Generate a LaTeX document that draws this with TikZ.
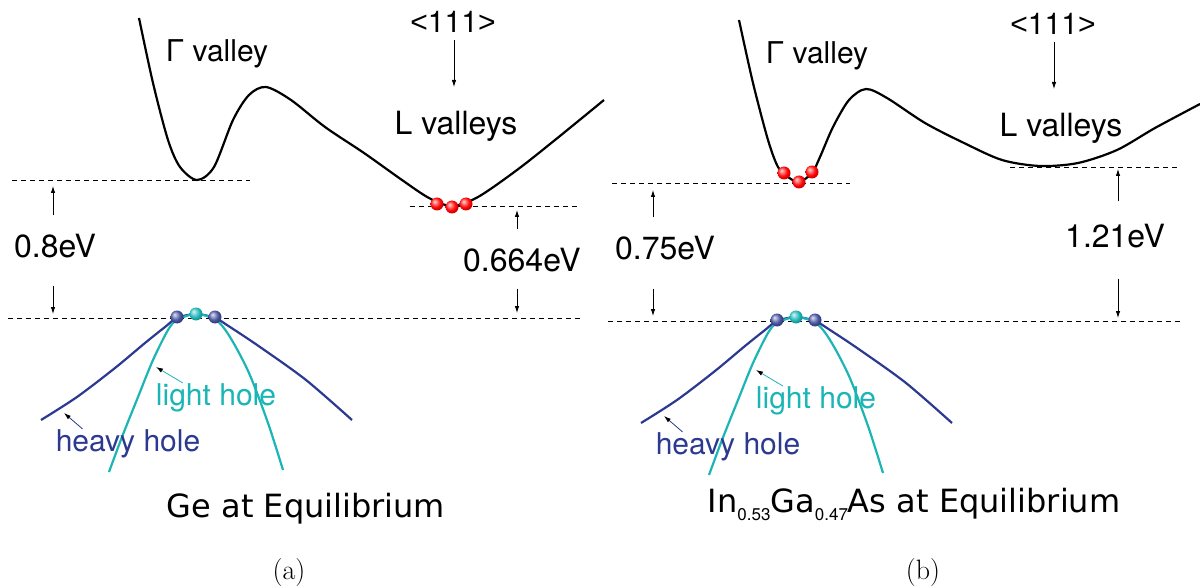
\documentclass[tikz,border=0pt]{standalone}
\usepackage{fontspec}
\setsansfont{TeX Gyre Heros}
\newfontfamily\capfont{DejaVu Sans}
\newfontfamily\arialfont{Liberation Sans}
\usetikzlibrary{arrows.meta}
\definecolor{hhblue}{RGB}{43,57,144}
\definecolor{lhteal}{RGB}{27,181,182}
\colorlet{ballcol}{red}
\pgfdeclareradialshading[ballcol]{glossy}{\pgfqpoint{-10bp}{10bp}}{color(0bp)=(ballcol!15!white); color(9bp)=(ballcol!55!white); color(18bp)=(ballcol!95!white); color(25bp)=(ballcol!85!black); color(50bp)=(ballcol!70!black)}
\newcommand{\molfrac}[1]{{\sffamily\fontsize{17}{17}\selectfont\raisebox{-8pt}{#1}}}
\newcommand{\dirlabel}{{\arialfont<}111{\arialfont>}}
% hole bands at the top of the valence band, #1 = panel suffix
\newcommand{\holebands}[1]{%
  \draw[hhband] plot[smooth, tension=0.5] coordinates {(41,420) (77,397) (115,368) (145,343) (165,327) (177,318) (196,314) (215,318) (230,327) (260,347) (306,380) (352,420)};
  \draw[lhband] plot[smooth, tension=0.5] coordinates {(109,472) (122,437) (138,397) (153,360) (168,330) (177,320) (196,314) (216,320) (230,337) (249,373) (268,423) (283,470)};
  \foreach \x in {177,215} {\shade[carrier=hhblue!90!white] (\x,317) circle (6.5pt);}
  \shade[carrier=lhteal] (196,314) circle (6.5pt);
  \node[lbl, text=lhteal, anchor=base] (lh#1) at (216,405) {light hole};
  \node[lbl, text=hhblue, anchor=base] (hh#1) at (128,451) {heavy hole};
  \coordinate (lhtip#1) at (156,367);
  \coordinate (hhtip#1) at (64,413);
  \draw[pointer, lhteal] ([xshift=27pt]lh#1.north west) -- (lhtip#1);
  \draw[pointer, hhblue] ([xshift=27pt]hh#1.north west) -- (hhtip#1);
}
\begin{document}
\begin{tikzpicture}[x=1pt, y=-1pt, font=\sffamily\fontsize{30}{34}\selectfont,
    >={Latex[length=7pt, width=4.5pt]},
    valley/.style={line width=2.2pt, line join=round},
    hhband/.style={draw=hhblue, line width=2.2pt},
    lhband/.style={draw=lhteal, line width=2.2pt},
    bandedge/.style={line width=0.9pt, dash pattern=on 5pt off 4pt},
    gaparrow/.style={->, line width=0.8pt},
    pointer/.style={line width=0.8pt, -{Latex[color=black, length=7pt, width=4.5pt]}},
    lbl/.style={inner sep=0pt},
    biglbl/.style={inner sep=0pt, font=\sffamily\fontsize{32}{36}\selectfont},
    captext/.style={inner sep=0pt, anchor=base, font=\capfont\fontsize{32}{36}\selectfont},
    panel/.style={inner sep=0pt, anchor=base, font=\rmfamily\fontsize{28}{32}\selectfont},
    carrier/.style={/utils/exec={\colorlet{ballcol}{#1}}, shading=glossy}]
  \useasboundingbox (0,0) rectangle (1200,588);

  % (a) Ge
  \draw[valley] plot[smooth, tension=0.5] coordinates {(139,18) (153,83) (168,140) (180,167) (197,180) (214,167) (233,120) (249,95) (266,87) (291,100) (325,127) (364,153) (402,180) (429,198) (452,206) (478,197) (517,170) (555,140) (604,100)};
  \draw[bandedge] (12,180) -- (250,180);
  \draw[bandedge] (410,206) -- (580,206);
  \draw[bandedge] (8,318) -- (582,318);
  \foreach \x/\y in {437/204,452/207,466/204} {\shade[carrier=red] (\x,\y) circle (6.5pt);}
  \node[lbl, anchor=base] (gamA) at (217,62) {Γ valley};
  \node[lbl, anchor=base] (dirA) at (453,33) {\dirlabel};
  \node[biglbl, anchor=base] (LvA) at (456,135) {L valleys};
  \coordinate (dirtipA) at (454,87);
  \draw[gaparrow, shorten <=7pt] (dirA.south -| dirtipA) -- (dirtipA);
  \node[biglbl, anchor=base west] (gapA) at (14,258) {0.8eV};
  \coordinate (GupA) at (53,186);
  \coordinate (GdnA) at (53,314);
  \draw[gaparrow, shorten <=19pt] (gapA.north -| GupA) -- (GupA);
  \draw[gaparrow, shorten <=27pt] (gapA.south -| GdnA) -- (GdnA);
  \node[biglbl, anchor=base west] (gapLA) at (463,272) {0.664eV};
  \coordinate (LupA) at (517,210);
  \coordinate (LdnA) at (517,313);
  \draw[gaparrow, shorten <=19pt] (gapLA.north -| LupA) -- (LupA);
  \draw[gaparrow, shorten <=16pt] (gapLA.south -| LdnA) -- (LdnA);
  \holebands{A}
  \node[captext] (capA) at (306,517) {Ge at Equilibrium};
  \node[panel] (subA) at (289,579) {(a)};

  % (b) InGaAs
  \draw[valley] plot[smooth, tension=0.5] coordinates {(739,20) (753,83) (768,140) (778,167) (788,177) (799,182) (812,173) (820,157) (833,127) (849,100) (866,89) (887,98) (925,123) (964,143) (1002,160) (1040,166) (1078,163) (1117,150) (1155,128) (1200,104)};
  \draw[bandedge] (612,183) -- (850,183);
  \draw[bandedge] (1010,167) -- (1180,167);
  \draw[bandedge] (608,321) -- (1182,321);
  \foreach \x/\y in {784/173,799/182,812/172} {\shade[carrier=red] (\x,\y) circle (6.5pt);}
  \node[lbl, anchor=base] (gamB) at (817,64) {Γ valley};
  \node[lbl, anchor=base] (dirB) at (1053,35) {\dirlabel};
  \node[biglbl, anchor=base] (LvB) at (1061,137) {L valleys};
  \coordinate (dirtipB) at (1054,89);
  \draw[gaparrow, shorten <=7pt] (dirB.south -| dirtipB) -- (dirtipB);
  \node[biglbl, anchor=base west] (gapB) at (615,260) {0.75eV};
  \coordinate (GupB) at (653,190);
  \coordinate (GdnB) at (653,316);
  \draw[gaparrow, shorten <=19pt] (gapB.north -| GupB) -- (GupB);
  \draw[gaparrow, shorten <=28pt] (gapB.south -| GdnB) -- (GdnB);
  \node[biglbl, anchor=base west] (gapLB) at (1065,248) {1.21eV};
  \coordinate (LupB) at (1118,169);
  \coordinate (LdnB) at (1118,318);
  \draw[gaparrow, shorten <=23pt] (gapLB.north -| LupB) -- (LupB);
  \draw[gaparrow, shorten <=30pt] (gapLB.south -| LdnB) -- (LdnB);
  \begin{scope}[xshift=600pt, yshift=-3pt]
    \holebands{B}
  \end{scope}
  \node[captext] (capB) at (914,512) {In\molfrac{0.53}Ga\molfrac{0.47}As at Equilibrium};
  \node[panel] (subB) at (923,579) {(b)};
\end{tikzpicture}
\end{document}
